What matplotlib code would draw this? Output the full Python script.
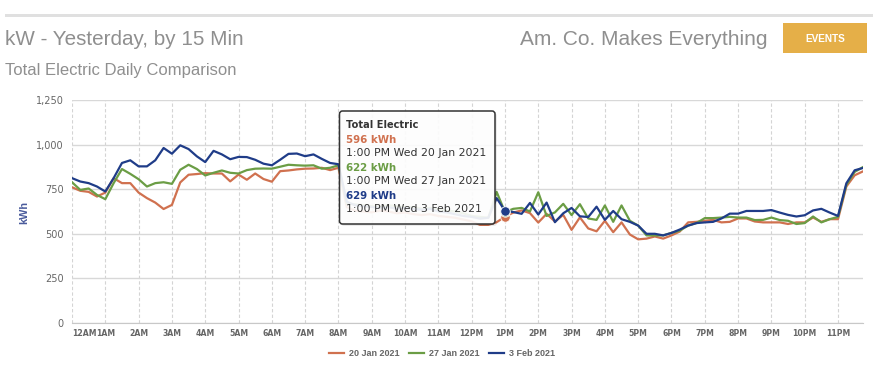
import numpy as np
import matplotlib
matplotlib.use('Agg')
import matplotlib.pyplot as plt
from matplotlib.patches import FancyBboxPatch, Rectangle
from matplotlib.lines import Line2D
from matplotlib.ticker import FuncFormatter

# 15 minute readings, 96 per day
hours = np.arange(96) * 0.25
hour_ticks = np.arange(24)
hour_labels = ['12AM', '1AM', '2AM', '3AM', '4AM', '5AM', '6AM', '7AM', '8AM', '9AM', '10AM', '11AM',
               '12PM', '1PM', '2PM', '3PM', '4PM', '5PM', '6PM', '7PM', '8PM', '9PM', '10PM', '11PM']

jan20 = [761, 741, 735, 709, 731, 812, 784, 784, 731, 700, 675, 639,
         662, 788, 831, 835, 840, 838, 838, 794, 832, 803, 838, 807,
         792, 851, 855, 861, 865, 866, 870, 857, 870, 650, 630, 625,
         620, 630, 625, 615, 620, 610, 605, 610, 600, 595, 590, 580,
         570, 550, 550, 565, 596, 619, 631, 616, 563, 612, 569, 606,
         522, 592, 530, 514, 573, 509, 564, 496, 469, 473, 485, 473,
         491, 513, 564, 567, 573, 578, 564, 567, 586, 586, 569, 564,
         564, 564, 555, 564, 564, 591, 567, 582, 582, 765, 828, 850]

jan27 = [789, 746, 754, 718, 694, 784, 863, 836, 806, 765, 784, 789,
         780, 859, 887, 863, 827, 842, 855, 842, 838, 857, 865, 866,
         865, 876, 887, 884, 882, 884, 865, 870, 884, 670, 665, 660,
         655, 650, 660, 655, 650, 650, 640, 645, 635, 630, 625, 615,
         600, 595, 590, 735, 622, 640, 645, 625, 733, 600, 620, 668,
         605, 666, 586, 578, 659, 567, 659, 573, 546, 491, 491, 491,
         505, 518, 546, 560, 588, 588, 591, 595, 591, 591, 577, 578,
         591, 577, 573, 555, 560, 597, 564, 582, 595, 774, 847, 874]

feb3 = [812, 793, 784, 765, 737, 812, 897, 912, 878, 878, 912, 981,
        949, 996, 975, 934, 902, 965, 945, 918, 931, 930, 915, 893,
        884, 915, 948, 950, 935, 945, 920, 897, 890, 680, 660, 655,
        650, 645, 650, 640, 645, 640, 635, 640, 625, 620, 610, 600,
        595, 585, 590, 700, 629, 622, 612, 673, 608, 675, 565, 615,
        645, 598, 594, 652, 578, 628, 582, 567, 546, 500, 500, 491,
        505, 524, 546, 560, 564, 567, 586, 613, 613, 628, 628, 628,
        633, 619, 606, 597, 604, 631, 640, 619, 600, 783, 856, 869]

series = [jan20, jan27, feb3]
series_names = ['20 Jan 2021', '27 Jan 2021', '3 Feb 2021']
series_colors = ['#d0714f', '#6b9d45', '#1f3c88']
tooltip_dates = ['Wed 20 Jan 2021', 'Wed 27 Jan 2021', 'Wed 3 Feb 2021']
hover_index = 52  # 1:00 PM
hover_time = '1:00 PM'

W, H = 880, 376
fig = plt.figure(figsize=(W / 100, H / 100), dpi=100)
fig.patch.set_facecolor('white')

ax = fig.add_axes([72 / W, 1 - 323 / H, (863 - 72) / W, (323 - 100) / H])
for vals, color in zip(series, series_colors):
    ax.plot(hours, vals, color=color, lw=1.6, solid_joinstyle='round', zorder=3)

ax.set_xlim(0, 23.75)
ax.set_ylim(0, 1250)
ax.set_yticks([0, 250, 500, 750, 1000, 1250])
ax.yaxis.set_major_formatter(FuncFormatter(lambda v, p: f'{int(v):,}'))
ax.set_xticks(hour_ticks)
ax.set_xticklabels(hour_labels)
ax.tick_params(axis='both', length=0)
ax.tick_params(axis='y', pad=6, labelsize=7, labelcolor='#666666')
ax.tick_params(axis='x', pad=4, labelsize=5.6, labelcolor='#666666')
for lbl in ax.get_xticklabels():
    lbl.set_fontweight('bold')
ax.get_xticklabels()[0].set_horizontalalignment('left')

ax.grid(axis='y', color='#d8d8d8', lw=1, zorder=0)
ax.grid(axis='x', color='#d4d4d4', lw=0.8, ls=(0, (3, 2)), zorder=0)
ax.set_axisbelow(True)
for side in ['top', 'right', 'left']:
    ax.spines[side].set_visible(False)
ax.spines['bottom'].set_color('#c8c8c8')

# hover markers at 1 PM
for vals, color in zip(series, series_colors):
    ax.plot(hours[hover_index], vals[hover_index], 'o', color=color, ms=6.8,
            mec='white', mew=0.6, zorder=4)

# legend
handles = [Line2D([], [], color=c, lw=1.6) for c in series_colors]
fig.legend(handles, series_names, loc='center', bbox_to_anchor=(442 / W, 1 - 354 / H),
           ncol=3, frameon=False, handlelength=1.7, handletextpad=0.55, columnspacing=1.0,
           prop={'family': 'Liberation Sans', 'weight': 'bold', 'size': 6.5}, labelcolor='#666666')

# overlay in pixel coordinates for header and tooltip
ov = fig.add_axes([0, 0, 1, 1], zorder=5)
ov.set_xlim(0, W)
ov.set_ylim(H, 0)
ov.axis('off')

ov.add_patch(Rectangle((5, 13.5), 868, 3.6, color='#e0e0e0', lw=0))
ov.text(5, 45, 'kW - Yesterday, by 15 Min', family='Liberation Sans', size=14.9,
        color='#8f8f8f', va='baseline', ha='left')
ov.text(5, 75, 'Total Electric Daily Comparison', family='Liberation Sans', size=12,
        color='#8f8f8f', va='baseline', ha='left')
ov.text(767, 45, 'Am. Co. Makes Everything', family='Liberation Sans', size=15,
        color='#8f8f8f', va='baseline', ha='right')
ov.add_patch(Rectangle((783, 23), 84, 30, color='#e5af48', lw=0))
ov.text(825, 38.5, 'EVENTS', family='Liberation Sans', weight='bold', size=7.2,
        color='white', ha='center', va='center')

ov.text(24, 212, 'kWh', rotation=90, family='Liberation Sans', weight='bold', size=7.8,
        color='#4a5b9c', ha='center', va='center')

# tooltip
ov.add_patch(FancyBboxPatch((341, 113), 156, 113, boxstyle='round,pad=0,rounding_size=3',
                            fc='#000000', ec='none', alpha=0.08))
ov.add_patch(FancyBboxPatch((339.5, 111), 155.5, 113, boxstyle='round,pad=0,rounding_size=3',
                            fc='white', ec='none', alpha=0.91))
ov.add_patch(FancyBboxPatch((339.5, 111), 155.5, 113, boxstyle='round,pad=0,rounding_size=3',
                            fc='none', ec='#333333', lw=1.1))
ov.text(346, 128.5, 'Total Electric', size=7.1, weight='bold', color='#333333', va='baseline')
base = 142.7
for vals, color, date in zip(series, series_colors, tooltip_dates):
    ov.text(346, base, f'{vals[hover_index]} kWh', size=7.4, weight='bold', color=color, va='baseline')
    ov.text(346, base + 13.6, f'{hover_time} {date}', size=7.85, color='#333333', va='baseline')
    base += 28.1

fig.savefig('out.png', dpi=100, facecolor='white')
